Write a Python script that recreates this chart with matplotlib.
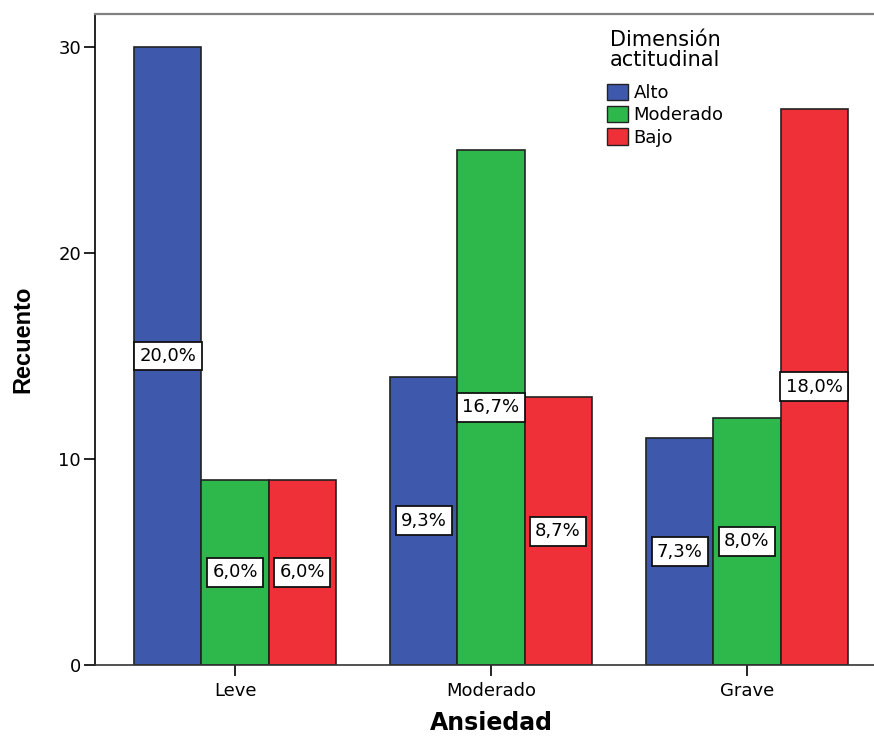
import numpy as np
import matplotlib
matplotlib.use("Agg")
import matplotlib.pyplot as plt
from matplotlib.patches import Patch

# data
groups = ["Leve", "Moderado", "Grave"]
series = ["Alto", "Moderado", "Bajo"]
alto = [30, 14, 11]
moderado = [9, 25, 12]
bajo = [9, 13, 27]
pct_alto = ["20,0%", "9,3%", "7,3%"]
pct_moderado = ["6,0%", "16,7%", "8,0%"]
pct_bajo = ["6,0%", "8,7%", "18,0%"]

colors = ["#3E58AC", "#2EB84B", "#EF3038"]

plt.rcParams['font.family'] = ['DejaVu Sans']

fig = plt.figure(figsize=(8.74, 7.36), dpi=100)
ax = fig.add_axes([95/874, 1-665/736, 792/874, 651/736])

x = np.arange(len(groups))
w = 0.262
vals = [alto, moderado, bajo]
pcts = [pct_alto, pct_moderado, pct_bajo]
for i, (v, p, c) in enumerate(zip(vals, pcts, colors)):
    pos = x + (i - 1) * w
    ax.bar(pos, v, w, color=c, edgecolor="#222222", linewidth=1.2, label=series[i])
    for xi, vi, pi in zip(pos, v, p):
        ax.text(xi, vi / 2, pi, ha="center", va="center", fontsize=13,
                bbox=dict(boxstyle="square,pad=0.3", fc="white", ec="#111111", lw=1.3))

ax.set_xlim(-0.547, 2.547)
ax.set_ylim(0, 31.6)
ax.set_yticks([0, 10, 20, 30])
ax.set_xticks(x)
ax.set_xticklabels(groups, fontsize=13)
ax.tick_params(axis="y", labelsize=13, length=8, width=1.2, pad=2)
ax.tick_params(axis="x", length=8, width=1.2, pad=4)

ax.spines["right"].set_visible(False)
ax.spines["top"].set_color("#808080")
ax.spines["top"].set_linewidth(1.6)
ax.spines["left"].set_linewidth(1.2)
ax.spines["bottom"].set_linewidth(1.2)
ax.spines["bottom"].set_color("#333333")

ax.set_ylabel("Recuento", fontsize=17, fontweight="bold", family="Liberation Sans", labelpad=17)
ax.set_xlabel("Ansiedad", fontsize=17, fontweight="bold", labelpad=8)

handles = [Patch(facecolor=c, edgecolor="#222222", label=s) for c, s in zip(colors, series)]
leg = ax.legend(handles=handles, title="Dimensión\nactitudinal", loc="upper left",
                bbox_to_anchor=(600/874, 1-23/736), bbox_transform=fig.transFigure,
                frameon=False, fontsize=13, title_fontsize=15,
                handlelength=1.15, handleheight=1.0, handletextpad=0.3,
                labelspacing=0.22, borderaxespad=0)
leg.get_title().set_linespacing(1.0)
leg._legend_box.sep = 0.22 * 13 + 7

fig.savefig("out.png", dpi=100)
